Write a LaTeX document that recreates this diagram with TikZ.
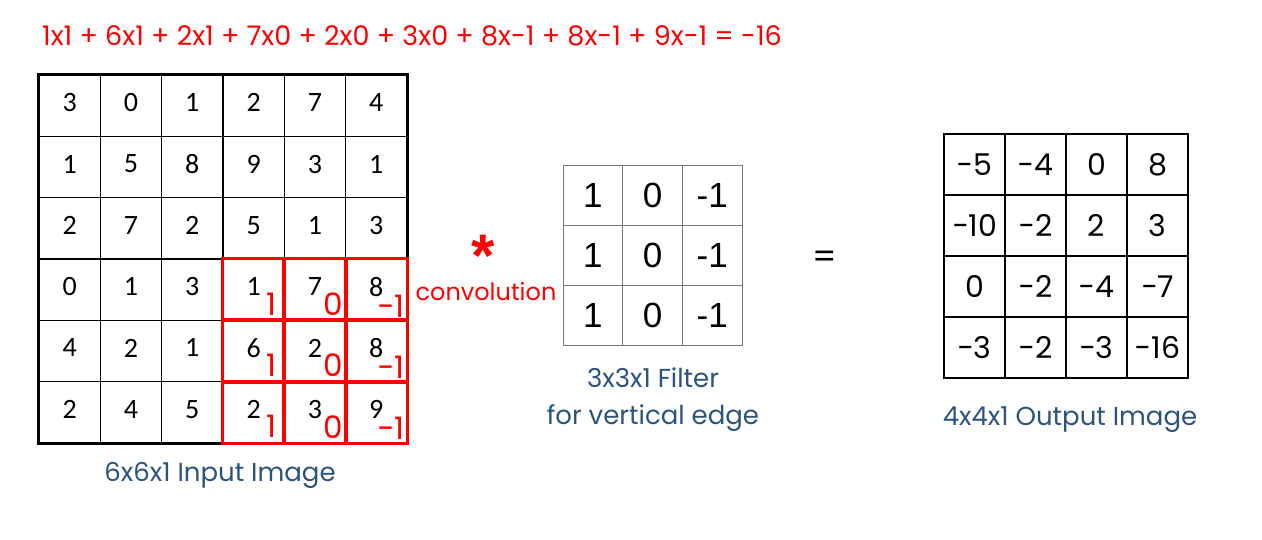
\documentclass[tikz,border=0pt]{standalone}
\usepackage{fontspec}
\setmainfont{Poppins}
\newfontfamily\calfont{Carlito}
\newfontfamily\arialfont{Liberation Sans}
\definecolor{lblue}{RGB}{43,84,128}
\definecolor{pured}{RGB}{255,0,0}
\definecolor{fgray}{RGB}{120,120,120}
\tikzset{
  incell/.style={draw=black, line width=1.3pt, minimum width=61.33pt, minimum height=61.33pt, inner sep=0pt, text depth=6pt, font=\calfont\fontsize{28}{28}\selectfont},
  fcell/.style={draw=fgray, line width=1pt, minimum width=59.7pt, minimum height=59.7pt, inner sep=0pt, font=\arialfont\fontsize{35}{35}\selectfont},
  ocell/.style={draw=black, line width=2.6pt, minimum width=61pt, minimum height=61pt, inner sep=0pt, font=\fontsize{30}{30}\selectfont},
  subw/.style={text=pured, inner sep=0pt, font=\fontsize{31}{31}\selectfont},
  redbox/.style={draw=pured, line width=2.8pt},
  outerbox/.style={draw=black, line width=2.6pt},
  bluelabel/.style={text=lblue, inner sep=0pt, font=\fontsize{26}{26}\selectfont},
  redtext/.style={text=pured, inner sep=0pt},
}
\begin{document}
\begin{tikzpicture}[x=1pt,y=-1pt]
\useasboundingbox (0,0) rectangle (1262,540);
% heading
\node[redtext, font=\fontsize{27}{27}\selectfont] (head) at (412,36) {1x1 + 6x1 + 2x1 + 7x0 + 2x0 + 3x0 + 8x-1 + 8x-1 + 9x-1 = -16};
% input grid
\foreach \row [count=\r] in {{3,0,1,2,7,4},{1,5,8,9,3,1},{2,7,2,5,1,3},{0,1,3,1,7,8},{4,2,1,6,2,8},{2,4,5,2,3,9}} {
  \foreach \v [count=\c] in \row {
    \node[incell] (in-\r-\c) at ({39+61.33*(\c-0.5)},{75+61.33*(\r-0.5)}) {\v};
  }
}
\draw[outerbox] (in-1-1.north west) rectangle (in-6-6.south east);
\foreach \r in {4,5,6} {
  \foreach \c in {4,5,6} {
    \draw[redbox] (in-\r-\c.north west) rectangle (in-\r-\c.south east);
  }
  \node[subw] (w-\r-4) at ([xshift=-14pt,yshift=17pt]in-\r-4.south east) {1};
  \node[subw] (w-\r-5) at ([xshift=-13pt,yshift=17pt]in-\r-5.south east) {0};
  \node[subw] (w-\r-6) at ([xshift=-17pt,yshift=15pt]in-\r-6.south east) {−1};
}
\node[bluelabel] (inlab) at (220,475) {6x6x1 Input Image};
% convolution symbol
\node[redtext, font=\arialfont\bfseries\fontsize{60}{60}\selectfont, text height=44pt, text depth=-25pt] (star) at (483,255) {*};
\node[redtext, font=\fontsize{24}{24}\selectfont] (conv) at (486,291) {convolution};
% filter
\foreach \r in {1,2,3} {
  \node[fcell] (f-\r-1) at ({563+59.7*0.5},{166+59.7*(\r-0.5)}) {1};
  \node[fcell] (f-\r-2) at ({563+59.7*1.5},{166+59.7*(\r-0.5)}) {0};
  \node[fcell] (f-\r-3) at ({563+59.7*2.5},{166+59.7*(\r-0.5)}) {-1};
}
\node[bluelabel] (flab1) at (653,378) {3x3x1 Filter};
\node[bluelabel] (flab2) at (653,418) {for vertical edge};
% equals
\node[inner sep=0pt, font=\fontsize{34}{34}\selectfont] (eq) at (825,260) {=};
% output grid
\foreach \row [count=\r] in {{−5,−4,0,8},{−10,−2,2,3},{0,−2,−4,−7},{−3,−2,−3,−16}} {
  \foreach \v [count=\c] in \row {
    \node[ocell] (out-\r-\c) at ({944+61*(\c-0.5)},{134+61*(\r-0.5)}) {\v};
  }
}
\node[bluelabel] (olab) at (1070,420) {4x4x1 Output Image};
\end{tikzpicture}
\end{document}
